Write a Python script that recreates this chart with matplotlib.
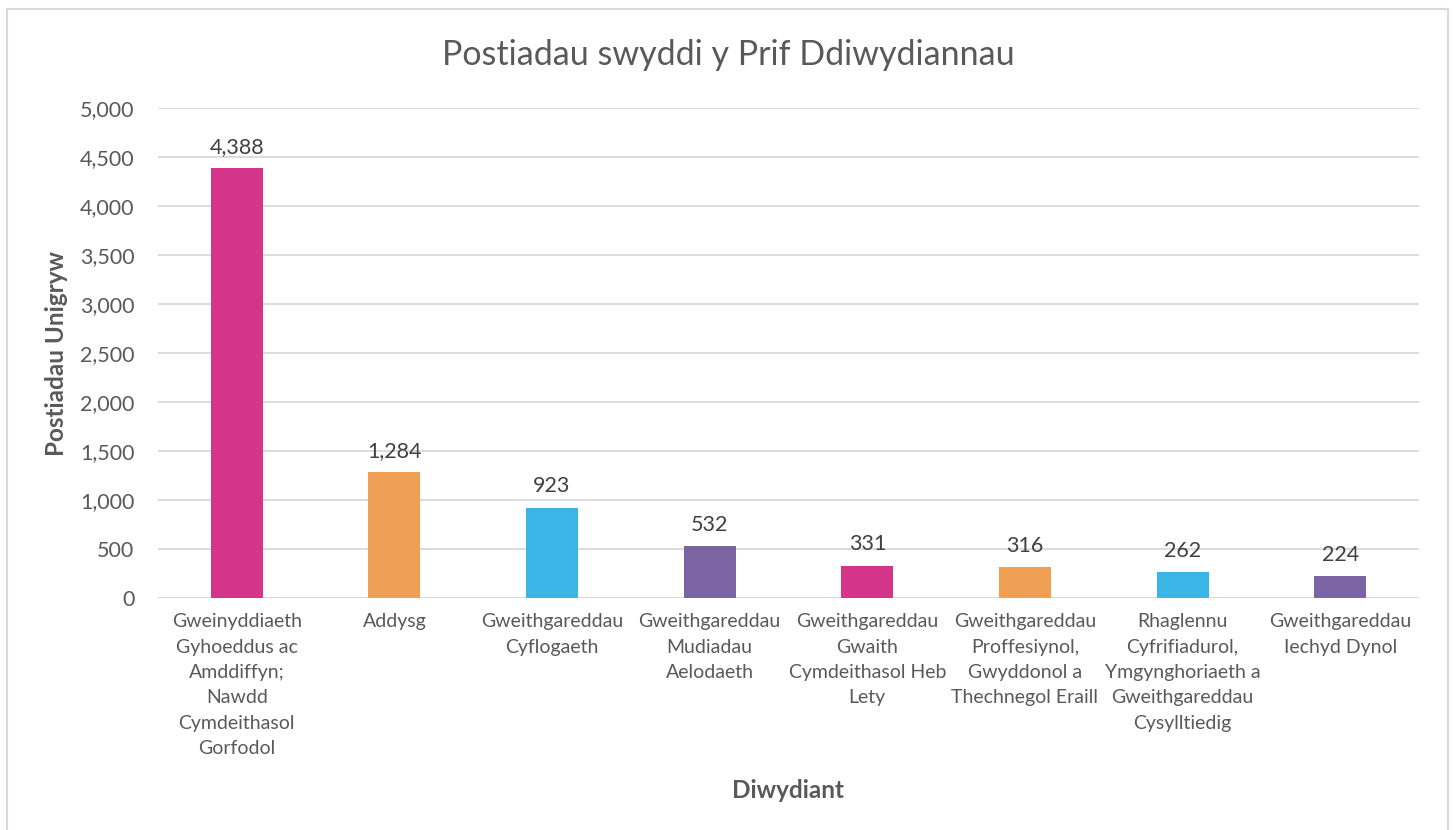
import matplotlib
matplotlib.use("Agg")
import matplotlib.pyplot as plt
from matplotlib.patches import Rectangle
from matplotlib.ticker import FuncFormatter, MultipleLocator

categories = [
    "Gweinyddiaeth\nGyhoeddus ac\nAmddiffyn;\nNawdd\nCymdeithasol\nGorfodol",
    "Addysg",
    "Gweithgareddau\nCyflogaeth",
    "Gweithgareddau\nMudiadau\nAelodaeth",
    "Gweithgareddau\nGwaith\nCymdeithasol Heb\nLety",
    "Gweithgareddau\nProffesiynol,\nGwyddonol a\nThechnegol Eraill",
    "Rhaglennu\nCyfrifiadurol,\nYmgynghoriaeth a\nGweithgareddau\nCysylltiedig",
    "Gweithgareddau\nIechyd Dynol",
]
values = [4388, 1284, 923, 532, 331, 316, 262, 224]
colors = ["#D4358A", "#F0A055", "#3BB5E6", "#7B64A4",
          "#D4358A", "#F0A055", "#3BB5E6", "#7B64A4"]

plt.rcParams['font.family'] = ['Lato', 'DejaVu Sans']

W, H = 1453, 830
fig = plt.figure(figsize=(W / 100, H / 100), dpi=100)
ax = fig.add_axes([158 / W, 1 - 598 / H, (1419 - 158) / W, (598 - 108) / H])

x = range(len(categories))
bars = ax.bar(x, values, width=0.33, color=colors, zorder=3)
ax.set_xlim(-0.5, len(categories) - 0.5)
ax.set_ylim(0, 5000)
ax.yaxis.set_major_locator(MultipleLocator(500))
ax.yaxis.set_major_formatter(FuncFormatter(lambda v, p: f"{int(v):,}"))
ax.grid(axis="y", color="#D9D9D9", linewidth=1.3, zorder=0)
for s in ax.spines.values():
    s.set_visible(False)
ax.tick_params(axis="both", length=0, colors="#595959")
ax.tick_params(axis="y", pad=17, labelsize=15.5)
ax.tick_params(axis="x", pad=11, labelsize=14)
ax.set_xticks(list(x))
ax.set_xticklabels(categories, linespacing=1.6, color="#595959")

for b, v in zip(bars, values):
    ax.annotate(f"{v:,}", (b.get_x() + b.get_width() / 2, v),
                xytext=(0, 8), textcoords="offset points",
                ha="center", va="bottom", fontsize=15.5, color="#404040")

fig.text(728 / W, 1 - 55 / H, "Postiadau swyddi y Prif Ddiwydiannau",
         ha="center", va="center", fontsize=24.5, color="#595959")
fig.text(57 / W, 1 - 353 / H, "Postiadau Unigryw", rotation=90,
         ha="center", va="center", fontsize=17.5, fontweight="bold", color="#595959")
fig.text(788 / W, 1 - 790 / H, "Diwydiant",
         ha="center", va="center", fontsize=17.5, fontweight="bold", color="#595959")

# chart border
fig.patches.append(Rectangle((7 / W, -0.05), (1448 - 7) / W, 1.05 - 9 / H,
                             transform=fig.transFigure, fill=False,
                             edgecolor="#D9D9D9", linewidth=1.5))

fig.savefig("out.png", dpi=100)
